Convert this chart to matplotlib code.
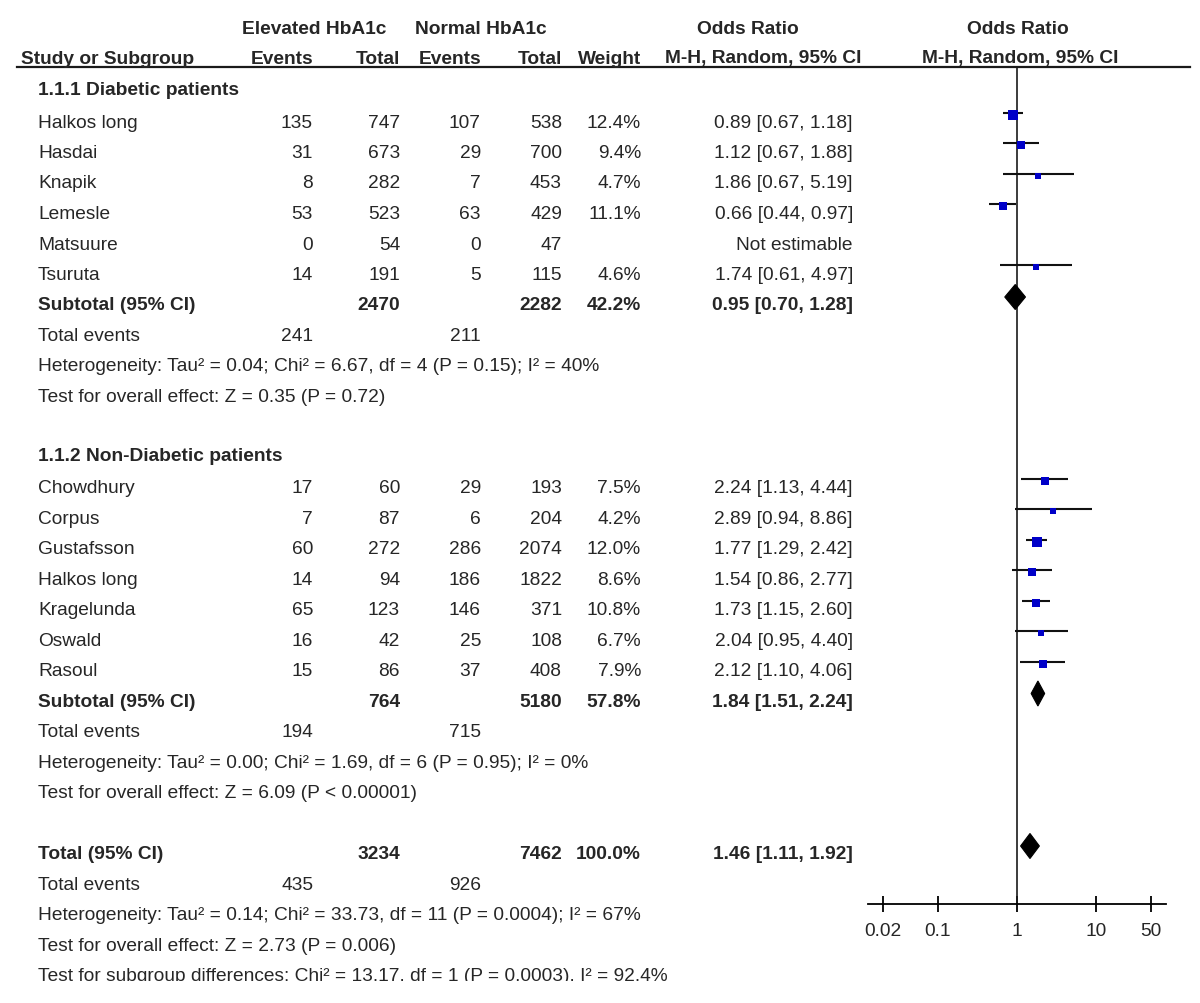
import numpy as np
import matplotlib
matplotlib.use('Agg')
import matplotlib.pyplot as plt
from matplotlib.patches import Polygon, Rectangle

plt.rcParams['font.family'] = ['Liberation Sans', 'DejaVu Sans']

# ---- data ----
g1_names = ['Halkos long', 'Hasdai', 'Knapik', 'Lemesle', 'Matsuure', 'Tsuruta']
g1_ev_e = [135, 31, 8, 53, 0, 14]
g1_tot_e = [747, 673, 282, 523, 54, 191]
g1_ev_c = [107, 29, 7, 63, 0, 5]
g1_tot_c = [538, 700, 453, 429, 47, 115]
g1_weight = [12.4, 9.4, 4.7, 11.1, np.nan, 4.6]
g1_or = [0.89, 1.12, 1.86, 0.66, np.nan, 1.74]
g1_lo = [0.67, 0.67, 0.67, 0.44, np.nan, 0.61]
g1_hi = [1.18, 1.88, 5.19, 0.97, np.nan, 4.97]

g2_names = ['Chowdhury', 'Corpus', 'Gustafsson', 'Halkos long', 'Kragelunda', 'Oswald', 'Rasoul']
g2_ev_e = [17, 7, 60, 14, 65, 16, 15]
g2_tot_e = [60, 87, 272, 94, 123, 42, 86]
g2_ev_c = [29, 6, 286, 186, 146, 25, 37]
g2_tot_c = [193, 204, 2074, 1822, 371, 108, 408]
g2_weight = [7.5, 4.2, 12.0, 8.6, 10.8, 6.7, 7.9]
g2_or = [2.24, 2.89, 1.77, 1.54, 1.73, 2.04, 2.12]
g2_lo = [1.13, 0.94, 1.29, 0.86, 1.15, 0.95, 1.10]
g2_hi = [4.44, 8.86, 2.42, 2.77, 2.60, 4.40, 4.06]

# subtotal / total: [tot_e, tot_c, weight, or, lo, hi, events_e, events_c]
sub1 = [2470, 2282, 42.2, 0.95, 0.70, 1.28, 241, 211]
sub2 = [764, 5180, 57.8, 1.84, 1.51, 2.24, 194, 715]
total = [3234, 7462, 100.0, 1.46, 1.11, 1.92, 435, 926]

het1 = 'Heterogeneity: Tau² = 0.04; Chi² = 6.67, df = 4 (P = 0.15); I² = 40%'
eff1 = 'Test for overall effect: Z = 0.35 (P = 0.72)'
het2 = 'Heterogeneity: Tau² = 0.00; Chi² = 1.69, df = 6 (P = 0.95); I² = 0%'
eff2 = 'Test for overall effect: Z = 6.09 (P < 0.00001)'
het_t = 'Heterogeneity: Tau² = 0.14; Chi² = 33.73, df = 11 (P = 0.0004); I² = 67%'
eff_t = 'Test for overall effect: Z = 2.73 (P = 0.006)'
sub_diff = 'Test for subgroup differences: Chi² = 13.17, df = 1 (P = 0.0003), I² = 92.4%'

tick_vals = [0.02, 0.1, 1, 10, 50]
tick_labels = ['0.02', '0.1', '1', '10', '50']

# ---- layout (pixels) ----
W, H = 1200, 1004
Y0, DY = 92.5, 30.5
def row_y(i):
    return Y0 + DY * i

TXT = '#262626'
FS = 13.8
X_NAME = 38
X_EVE, X_TOTE, X_EVC, X_TOTC, X_W, X_OR = 313, 400, 481, 562, 641, 853

fig = plt.figure(figsize=(W / 100, H / 100), dpi=100)
ax = fig.add_axes([0, 0, 1, 1])
ax.set_xlim(0, W)
ax.set_ylim(H, 0)
ax.axis('off')

def txt(x, y, s, ha='left', bold=False):
    ax.text(x, y, s, ha=ha, va='center', fontsize=FS, color=TXT,
            fontweight='bold' if bold else 'normal')

# headers
txt(314, 29, 'Elevated HbA1c', 'center', True)
txt(481, 29, 'Normal HbA1c', 'center', True)
txt(748, 29, 'Odds Ratio', 'center', True)
txt(1018, 29, 'Odds Ratio', 'center', True)
txt(21, 59, 'Study or Subgroup', 'left', True)
txt(X_EVE, 59, 'Events', 'right', True)
txt(X_TOTE, 59, 'Total', 'right', True)
txt(X_EVC, 59, 'Events', 'right', True)
txt(X_TOTC, 59, 'Total', 'right', True)
txt(X_W, 59, 'Weight', 'right', True)
txt(763, 59, 'M-H, Random, 95% CI', 'center', True)
txt(1020, 59, 'M-H, Random, 95% CI', 'center', True)
ax.plot([17, 1190], [67.5, 67.5], color='#1a1a1a', lw=1.6)

# forest axes
xl = 10 ** -1.886
fx = fig.add_axes([868 / W, (H - 905) / H, 298 / W, (905 - 67) / H])
fx.set_xscale('log')
fx.set_xlim(xl, 1 / xl)
fx.set_ylim(905, 67)
fx.patch.set_alpha(0)
for side in ['top', 'left', 'right']:
    fx.spines[side].set_visible(False)
fx.spines['bottom'].set_linewidth(1.3)
fx.set_yticks([])
fx.set_xticks(tick_vals)
fx.set_xticklabels(tick_labels)
fx.xaxis.set_minor_locator(matplotlib.ticker.NullLocator())
fx.tick_params(axis='x', direction='inout', length=12, width=1.3, pad=7,
               labelsize=FS, labelcolor=TXT)
fx.axvline(1, color='#1a1a1a', lw=1.2)

def study_rows(start, names, ev_e, tot_e, ev_c, tot_c, wt, orr, lo, hi):
    for k in range(len(names)):
        y = row_y(start + k)
        txt(X_NAME, y, names[k])
        txt(X_EVE, y, str(ev_e[k]), 'right')
        txt(X_TOTE, y, str(tot_e[k]), 'right')
        txt(X_EVC, y, str(ev_c[k]), 'right')
        txt(X_TOTC, y, str(tot_c[k]), 'right')
        if np.isnan(orr[k]):
            txt(X_OR, y, 'Not estimable', 'right')
            continue
        txt(X_W, y, f'{wt[k]:.1f}%', 'right')
        txt(X_OR, y, f'{orr[k]:.2f} [{lo[k]:.2f}, {hi[k]:.2f}]', 'right')
        yl = y - 9.5
        fx.plot([lo[k], hi[k]], [yl, yl], color='#111111', lw=1.5, solid_capstyle='butt')
        side = 2.0 * np.sqrt(wt[k]) * 0.95
        fx.scatter([orr[k]], [yl + 2], marker='s', s=side ** 2, color='#0000c8',
                   linewidths=0, zorder=3)

def summary_row(i, label, vals):
    y = row_y(i)
    txt(X_NAME, y, label, bold=True)
    txt(X_TOTE, y, str(vals[0]), 'right', True)
    txt(X_TOTC, y, str(vals[1]), 'right', True)
    txt(X_W, y, f'{vals[2]:.1f}%', 'right', True)
    txt(X_OR, y, f'{vals[3]:.2f} [{vals[4]:.2f}, {vals[5]:.2f}]', 'right', True)
    yd = y - 8
    dia = Polygon([(vals[4], yd), (vals[3], yd - 12.5), (vals[5], yd), (vals[3], yd + 12.5)],
                  closed=True, facecolor='black', edgecolor='black', lw=0.8, zorder=3)
    fx.add_patch(dia)
    ye = row_y(i + 1)
    txt(X_NAME, ye, 'Total events')
    txt(X_EVE, ye, str(vals[6]), 'right')
    txt(X_EVC, ye, str(vals[7]), 'right')

# group 1
txt(X_NAME, row_y(0) - 2, '1.1.1 Diabetic patients', bold=True)
study_rows(1, g1_names, g1_ev_e, g1_tot_e, g1_ev_c, g1_tot_c, g1_weight, g1_or, g1_lo, g1_hi)
summary_row(7, 'Subtotal (95% CI)', sub1)
txt(X_NAME, row_y(9), het1)
txt(X_NAME, row_y(10), eff1)

# group 2
txt(X_NAME, row_y(12) - 2, '1.1.2 Non-Diabetic patients', bold=True)
study_rows(13, g2_names, g2_ev_e, g2_tot_e, g2_ev_c, g2_tot_c, g2_weight, g2_or, g2_lo, g2_hi)
summary_row(20, 'Subtotal (95% CI)', sub2)
txt(X_NAME, row_y(22), het2)
txt(X_NAME, row_y(23), eff2)

# overall
summary_row(25, 'Total (95% CI)', total)
txt(X_NAME, row_y(27), het_t)
txt(X_NAME, row_y(28), eff_t)
txt(X_NAME, row_y(29), sub_diff)
# bottom edge of the source image cuts the last line
ax.add_patch(Rectangle((0, 982), W, H - 982, facecolor='white', edgecolor='none', zorder=10))

fig.savefig('out.png', dpi=100)
